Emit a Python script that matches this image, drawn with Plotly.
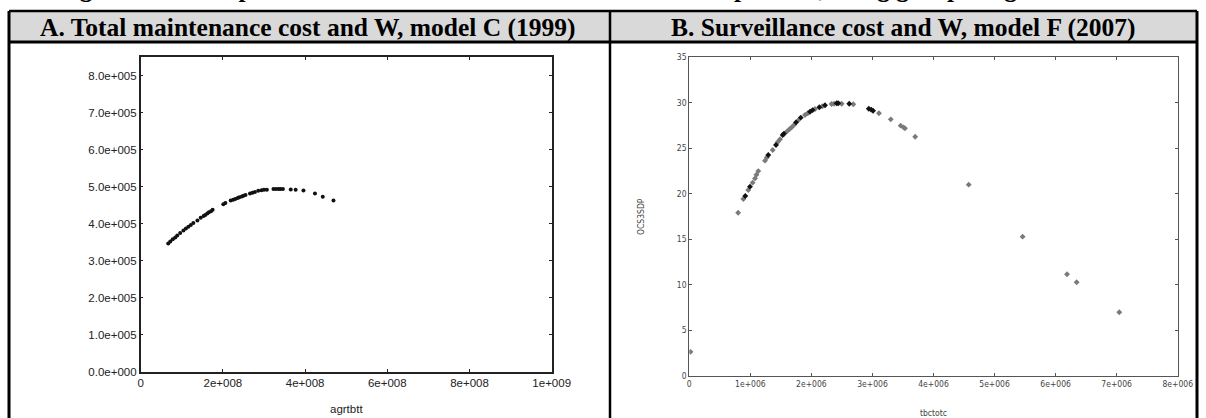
import plotly.graph_objects as go

W, H = 1206, 418

# ---------- data ----------
# Panel A: agrtbtt (x) vs total maintenance cost W (y)
a_x = [0.67e8, 0.72e8, 0.78e8, 0.84e8, 0.89e8, 0.96e8, 1.04e8, 1.10e8, 1.16e8, 1.22e8,
       1.28e8, 1.38e8, 1.46e8, 1.53e8, 1.57e8, 1.62e8, 1.66e8, 1.71e8, 1.75e8, 2.01e8,
       2.06e8, 2.19e8, 2.25e8, 2.30e8, 2.36e8, 2.40e8, 2.46e8, 2.50e8, 2.55e8, 2.66e8,
       2.72e8, 2.78e8, 2.86e8, 2.94e8, 3.00e8, 3.07e8, 3.23e8, 3.29e8, 3.35e8, 3.40e8,
       3.46e8, 3.65e8, 3.77e8, 3.96e8, 4.24e8, 4.43e8, 4.69e8]
a_y = [3.47e5, 3.52e5, 3.58e5, 3.63e5, 3.68e5, 3.75e5, 3.82e5, 3.87e5, 3.92e5, 3.97e5,
       4.02e5, 4.09e5, 4.16e5, 4.21e5, 4.24e5, 4.28e5, 4.31e5, 4.34e5, 4.38e5, 4.53e5,
       4.56e5, 4.63e5, 4.65e5, 4.67e5, 4.70e5, 4.72e5, 4.74e5, 4.76e5, 4.78e5, 4.82e5,
       4.84e5, 4.86e5, 4.89e5, 4.91e5, 4.92e5, 4.92e5, 4.94e5, 4.94e5, 4.94e5, 4.94e5,
       4.94e5, 4.93e5, 4.92e5, 4.90e5, 4.82e5, 4.73e5, 4.63e5]

# Panel B: tbctotc (x) vs OCS3SDP (y), two marker shades
b_gray_x = [0.02e6, 0.80e6, 0.885e6, 0.966e6, 1.038e6, 1.076e6, 1.10e6, 1.13e6, 1.24e6, 1.27e6,
            1.366e6, 1.45e6, 1.486e6, 1.595e6, 1.64e6, 1.677e6, 1.72e6, 1.78e6, 1.895e6, 1.94e6,
            2.059e6, 2.18e6, 2.33e6, 2.37e6, 2.496e6, 2.686e6, 3.107e6, 3.30e6, 3.462e6, 3.51e6,
            3.533e6, 3.70e6, 4.577e6, 5.46e6, 6.187e6, 6.345e6, 7.043e6]
b_gray_y = [2.65, 17.93, 19.44, 20.43, 21.23, 21.7, 22.1, 22.5, 23.65, 24.0,
            24.82, 25.7, 26.0, 26.83, 27.1, 27.31, 27.6, 28.05, 28.66, 28.85,
            29.32, 29.62, 29.87, 29.9, 29.90, 29.84, 28.85, 28.19, 27.49, 27.3,
            27.20, 26.28, 21.01, 15.3, 11.17, 10.29, 7.0]
b_black_x = [0.917e6, 0.994e6, 1.294e6, 1.42e6, 1.53e6, 1.55e6, 1.748e6, 1.825e6, 1.977e6,
             2.02e6, 2.13e6, 2.223e6, 2.414e6, 2.44e6, 2.62e6, 2.94e6, 2.98e6, 3.01e6]
b_black_y = [19.77, 20.79, 24.27, 25.37, 26.47, 26.6, 27.86, 28.37, 29.02,
             29.2, 29.51, 29.73, 29.95, 29.95, 29.90, 29.35, 29.25, 29.13]

# tick labels
a_xtick_vals = [0, 2e8, 4e8, 6e8, 8e8, 1e9]
a_xtick_text = ["0", "2e+008", "4e+008", "6e+008", "8e+008", "1e+009"]
a_ytick_vals = [0, 1e5, 2e5, 3e5, 4e5, 5e5, 6e5, 7e5, 8e5]
a_ytick_text = ["0.0e+000", "1.0e+005", "2.0e+005", "3.0e+005", "4.0e+005",
                "5.0e+005", "6.0e+005", "7.0e+005", "8.0e+005"]
b_xtick_vals = [0, 1e6, 2e6, 3e6, 4e6, 5e6, 6e6, 7e6, 8e6]
b_xtick_text = ["0", "1e+006", "2e+006", "3e+006", "4e+006", "5e+006", "6e+006", "7e+006", "8e+006"]
b_ytick_vals = [0, 5, 10, 15, 20, 25, 30, 35]
b_ytick_text = ["0", "5", "10", "15", "20", "25", "30", "35"]

header_a = "A. Total maintenance cost and W, model C (1999)"
header_b = "B. Surveillance cost and W, model F (2007)"
top_caption = "Figure 4. Scatterplots of W and selected maintenance cost components, using group weights"


def px(x):
    return x / W


def py(y):
    return 1 - y / H


fig = go.Figure()

fig.add_trace(go.Scatter(x=a_x, y=a_y, mode="markers", xaxis="x", yaxis="y",
                         marker=dict(color="#111111", size=4, symbol="circle"),
                         showlegend=False))
fig.add_trace(go.Scatter(x=b_gray_x, y=b_gray_y, mode="markers", xaxis="x2", yaxis="y2",
                         marker=dict(color="#7a7a7a", size=4.5, symbol="diamond"),
                         showlegend=False))
fig.add_trace(go.Scatter(x=b_black_x, y=b_black_y, mode="markers", xaxis="x2", yaxis="y2",
                         marker=dict(color="#111111", size=4.5, symbol="diamond"),
                         showlegend=False))

fontA = dict(family="Liberation Sans, Arial, sans-serif", size=11.5, color="#222222")
fontB = dict(family="DejaVu Sans Condensed, Liberation Sans, sans-serif", size=8.5, color="#444444")

common_a = dict(showgrid=False, zeroline=False, ticks="inside", ticklen=3, mirror="ticks",
                showline=True, linecolor="#222222", linewidth=1.5, tickcolor="#222222",
                tickfont=fontA, tickmode="array", automargin=False)
common_b = dict(showgrid=False, zeroline=False, ticks="inside", ticklen=3, mirror="ticks",
                showline=True, linecolor="#555555", linewidth=1, tickcolor="#555555",
                tickfont=fontB, tickmode="array", automargin=False)

fig.update_layout(
    width=W, height=H, autosize=False,
    margin=dict(l=0, r=0, t=0, b=0, pad=0, autoexpand=False),
    paper_bgcolor="white", plot_bgcolor="white",
    xaxis=dict(domain=[px(140.7), px(551.7)], range=[0, 1e9], anchor="y",
               tickvals=a_xtick_vals, ticktext=a_xtick_text, **common_a),
    yaxis=dict(domain=[py(371.7), py(57)], range=[0, 8.51e5], anchor="x",
               tickvals=a_ytick_vals, ticktext=a_ytick_text, **common_a),
    xaxis2=dict(domain=[px(689.3), px(1177.7)], range=[0, 8e6], anchor="y2",
                tickvals=b_xtick_vals, ticktext=b_xtick_text, **common_b),
    yaxis2=dict(domain=[py(376), py(57.3)], range=[0, 35], anchor="x2",
                tickvals=b_ytick_vals, ticktext=b_ytick_text, **common_b),
)

# table frame
shapes = []
shapes.append(dict(type="rect", xref="paper", yref="paper", x0=px(9), x1=px(1197),
                   y0=py(42), y1=py(11), fillcolor="#d9d9d9", line=dict(width=0), layer="below"))
for (x0, y0, x1, y1, w) in [(9, 11, 1197, 11, 2.5), (9, 42, 1197, 42, 3),
                            (9, 11, 9, 418, 3), (1197, 11, 1197, 418, 3),
                            (610, 11, 610, 418, 2.5)]:
    shapes.append(dict(type="line", xref="paper", yref="paper", x0=px(x0), x1=px(x1),
                       y0=py(y0), y1=py(y1), line=dict(color="black", width=w)))
fig.update_layout(shapes=shapes)

hfont = dict(family="Liberation Serif, Times New Roman, serif", size=25.5, color="black")
ann = [
    dict(text="<b>" + header_a + "</b>", x=px(308), y=py(27), xref="paper", yref="paper",
         showarrow=False, font=hfont, xanchor="center", yanchor="middle"),
    dict(text="<b>" + header_b + "</b>", x=px(903), y=py(27), xref="paper", yref="paper",
         showarrow=False, font=hfont, xanchor="center", yanchor="middle"),
    dict(text="<b>" + top_caption + "</b>", x=px(55), y=py(-11), xref="paper", yref="paper",
         showarrow=False, font=hfont, xanchor="left", yanchor="middle"),
    dict(text="agrtbtt", x=px(346), y=py(409), xref="paper", yref="paper",
         showarrow=False, font=dict(family="Liberation Sans, Arial, sans-serif", size=11.5, color="#222222"),
         xanchor="center", yanchor="middle"),
    dict(text="tbctotc", x=px(933.5), y=py(413), xref="paper", yref="paper",
         showarrow=False, font=fontB, xanchor="center", yanchor="middle"),
    dict(text="OCS3SDP", x=px(641.5), y=py(216.5), xref="paper", yref="paper",
         showarrow=False, font=fontB, textangle=-90, xanchor="center", yanchor="middle"),
]
fig.update_layout(annotations=ann)

fig.write_html(
    "out.html", config={"displayModeBar": False},
    post_script=("document.body.style.margin='0px';"
                 "document.body.style.overflow='hidden';"
                 "document.documentElement.style.overflow='hidden';"))
